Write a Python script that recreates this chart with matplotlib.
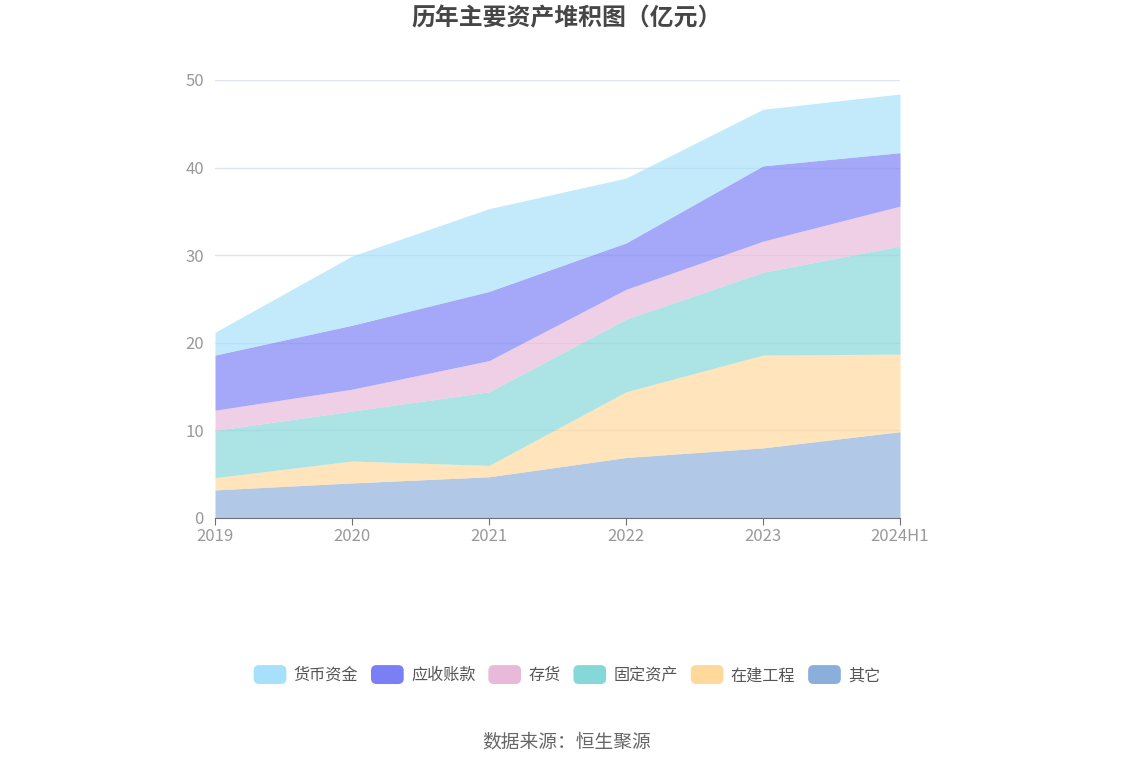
import matplotlib
matplotlib.use("Agg")
import matplotlib.pyplot as plt
from matplotlib.patches import FancyBboxPatch
from matplotlib.legend_handler import HandlerPatch
import matplotlib.patches as mpatches

plt.rcParams['font.family'] = ['Noto Sans CJK SC', 'DejaVu Sans']

years = ['2019', '2020', '2021', '2022', '2023', '2024H1']
qita = [3.2, 4.0, 4.7, 6.9, 8.0, 9.85]        # 其它
zaijian = [1.4, 2.5, 1.3, 7.5, 10.6, 8.85]    # 在建工程
guding = [5.4, 5.7, 8.4, 8.3, 9.45, 12.35]    # 固定资产
cunhuo = [2.3, 2.5, 3.56, 3.4, 3.55, 4.55]    # 存货
yingshou = [6.3, 7.3, 7.9, 5.3, 8.6, 6.1]     # 应收账款
huobi = [2.6, 7.9, 9.45, 7.4, 6.45, 6.7]      # 货币资金

series = [('其它', qita, '#8caedb'),
          ('在建工程', zaijian, '#ffd89c'),
          ('固定资产', guding, '#85d7d8'),
          ('存货', cunhuo, '#e8b9d9'),
          ('应收账款', yingshou, '#7a7ff5'),
          ('货币资金', huobi, '#a6e0fa')]

fig = plt.figure(figsize=(11.34, 7.66), dpi=100)
ax = fig.add_axes([0.1896, 0.3238, 0.6041, 0.5718])

x = list(range(len(years)))
base = [0.0] * len(years)
for name, vals, col in series:
    top = [b + v for b, v in zip(base, vals)]
    ax.fill_between(x, base, top, color=col, alpha=0.68, linewidth=0, zorder=2)
    base = top

ax.set_xlim(0, len(years) - 1)
ax.set_ylim(0, 50)
ax.set_yticks([0, 10, 20, 30, 40, 50])
ax.set_xticks(x)
ax.set_xticklabels(years)
ax.grid(axis='y', color='#e0e6f1', linewidth=1, zorder=0)
for s in ['top', 'right', 'left']:
    ax.spines[s].set_visible(False)
ax.spines['bottom'].set_color('#6e7079')
ax.spines['bottom'].set_zorder(5)
ax.tick_params(axis='y', length=0, labelcolor='#999999', labelsize=12, pad=8)
ax.tick_params(axis='x', length=5, color='#6e7079', labelcolor='#999999', labelsize=12, pad=2)

fig.text(0.5, 0.976, '历年主要资产堆积图（亿元）', ha='center', va='center',
         fontsize=17.2, fontweight='bold', color='#464646')


class RoundHandler(HandlerPatch):
    def create_artists(self, legend, orig_handle, xdescent, ydescent,
                       width, height, fontsize, trans):
        p = FancyBboxPatch((-xdescent, -ydescent - 2), width, height + 4,
                           boxstyle='round,pad=0,rounding_size=4',
                           facecolor=orig_handle.get_facecolor(),
                           edgecolor='none', transform=trans)
        return [p]


order = ['货币资金', '应收账款', '存货', '固定资产', '在建工程', '其它']
colors = {n: c for n, _, c in series}
handles = [mpatches.Patch(facecolor=colors[n], label=n) for n in order]
fig.legend(handles=handles, loc='center', bbox_to_anchor=(0.5, 0.118), ncol=6,
           frameon=False, fontsize=11.6, handlelength=2.03, handleheight=0.9,
           handletextpad=0.45, columnspacing=0.8, labelcolor='#555555',
           handler_map={mpatches.Patch: RoundHandler()})

fig.text(0.5, 0.032, '数据来源：恒生聚源', ha='center', va='center',
         fontsize=13.5, color='#666666')

fig.savefig('out.png', dpi=100)
